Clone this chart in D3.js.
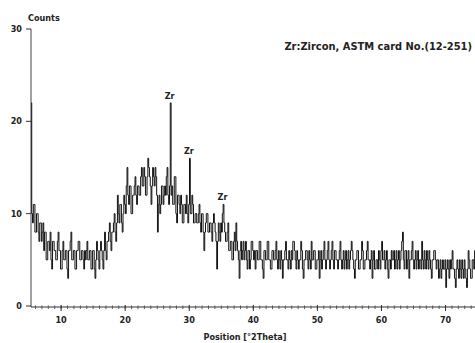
<!DOCTYPE html>
<html>
<head>
<meta charset="utf-8">
<script src="https://cdn.jsdelivr.net/npm/d3@7"></script>
<style>
  body { margin: 0; background: #fff; }
  svg { display: block; }
  .lbl { font-family: "Liberation Sans Narrow", "DejaVu Sans Condensed", sans-serif; font-weight: bold; fill: #222; }
</style>
</head>
<body>
<svg id="chart" width="475" height="343"></svg>
<script>
// XRD pattern, counts (2Theta grid: start + i*step, 8 per degree)
const thetaStart = 5.35;
const thetaStep = 0.125;
const counts = [
  22, 10, 9, 11, 11, 8, 8, 10,    10, 8, 7, 9, 9, 7, 8, 9,
  6, 8, 8, 5, 5, 7, 7, 6,         8, 5, 4, 7, 7, 6, 6, 5,
  5, 7, 8, 6, 6, 4, 4, 6,         7, 5, 5, 6, 6, 4, 3, 6,
  6, 7, 8, 5, 5, 6, 6, 4,         4, 6, 6, 7, 7, 5, 5, 6,
  6, 5, 4, 6, 5, 6, 7, 5,         5, 6, 6, 4, 4, 6, 6, 4,
  3, 5, 7, 6, 5, 4, 6, 7,         6, 5, 4, 6, 8, 6, 5, 7,
  7, 8, 9, 7, 6, 8, 8, 9,         10, 8, 7, 9, 12, 10, 9, 11,
  11, 9, 8, 10, 12, 11, 10, 13,   15, 12, 11, 13, 13, 10, 10, 12,
  12, 13, 14, 12, 11, 13, 13, 12, 12, 14, 15, 13, 13, 15, 14, 12,
  12, 14, 16, 15, 14, 13, 11, 13, 15, 14, 13, 15, 14, 12, 8, 11,
  12, 10, 11, 13, 13, 11, 12, 13, 12, 14, 15, 12, 11, 13, 22, 12,
  13, 11, 11, 14, 14, 10, 9, 12,  12, 11, 10, 12, 11, 9, 9, 11,
  11, 10, 12, 10, 9, 11, 16, 10,  10, 12, 11, 9, 9, 10, 10, 9,
  9, 10, 11, 9, 8, 10, 10, 8,     6, 8, 9, 10, 10, 8, 8, 9,
  9, 8, 7, 9, 10, 9, 8, 7,        4, 7, 9, 8, 7, 9, 8, 10,
  11, 9, 8, 7, 7, 8, 9, 6,        6, 7, 7, 5, 5, 7, 8, 6,
  9, 7, 6, 5, 3, 6, 7, 5,         6, 7, 5, 6, 7, 5, 4, 6,
  6, 4, 5, 7, 7, 6, 5, 6,         4, 6, 6, 5, 5, 7, 7, 5,
  5, 4, 3, 6, 6, 5, 5, 7,         7, 5, 5, 4, 4, 6, 6, 5,
  5, 6, 7, 5, 4, 6, 5, 4,         6, 5, 3, 5, 5, 6, 7, 5,
  5, 4, 6, 5, 4, 6, 5, 7,         7, 6, 5, 4, 6, 5, 4, 5,
  5, 7, 6, 4, 3, 5, 5, 6,         6, 5, 4, 6, 5, 4, 7, 5,
  5, 6, 6, 4, 4, 5, 5, 6,         3, 5, 6, 4, 5, 6, 7, 5,
  4, 5, 6, 7, 5, 4, 5, 6,         7, 5, 4, 6, 6, 5, 5, 4,
  5, 6, 7, 5, 4, 5, 6, 4,         5, 6, 4, 5, 6, 4, 5, 6,
  7, 6, 5, 4, 3, 5, 5, 6,         6, 4, 4, 5, 5, 7, 6, 4,
  4, 5, 5, 6, 7, 5, 5, 4,         5, 6, 3, 5, 6, 4, 4, 5,
  5, 4, 6, 5, 4, 6, 7, 5,         5, 6, 4, 5, 6, 4, 3, 5,
  5, 4, 6, 5, 5, 6, 4, 5,         6, 4, 5, 6, 4, 5, 6, 7,
  8, 5, 4, 6, 6, 4, 5, 6,         3, 5, 5, 6, 7, 5, 4, 5,
  6, 4, 5, 6, 4, 5, 5, 4,         7, 5, 4, 6, 5, 4, 6, 5,
  4, 6, 5, 4, 3, 5, 5, 6,         6, 5, 4, 5, 5, 3, 4, 5,
  3, 4, 5, 4, 4, 5, 2, 4,         5, 4, 3, 5, 4, 5, 6, 4,
  4, 3, 2, 4, 5, 4, 3, 5,         4, 3, 5, 4, 3, 5, 4, 3,
  2, 4, 6, 5, 4, 3, 3, 5,         5, 4, 6
];
const yTicks = [0, 10, 20, 30];
const xTicks = [10, 20, 30, 40, 50, 60, 70];
const peakNames = ["Zr", "Zr", "Zr"];
const peakTheta = [27.1, 30.1, 35.35];
const peakCounts = [22, 16, 11];
const legendText = "Zr:Zircon, ASTM card No.(12-251)";

const data = counts.map((c, i) => ({theta: thetaStart + i * thetaStep, count: c}));

const svg = d3.select("#chart");
const x = d3.scaleLinear().domain([5.3, 74.6]).range([31, 475]);
const y = d3.scaleLinear().domain([0, 30]).range([306, 29]);

// x axis
const xAxis = svg.append("g").attr("transform", "translate(0,307)");
xAxis.append("line").attr("x1", 31).attr("x2", 475).attr("stroke", "#333").attr("stroke-width", 1.2);
xAxis.selectAll(".minor").data(d3.range(6, 75)).enter().append("line")
  .attr("x1", d => x(d)).attr("x2", d => x(d))
  .attr("y1", -1.5).attr("y2", 2).attr("stroke", "#555");
xAxis.selectAll(".major").data(xTicks).enter().append("line")
  .attr("x1", d => x(d)).attr("x2", d => x(d))
  .attr("y1", -2).attr("y2", 4).attr("stroke", "#333");
xAxis.selectAll("text").data(xTicks).enter().append("text")
  .attr("class", "lbl").attr("x", d => x(d)).attr("y", 16)
  .attr("text-anchor", "middle").attr("font-size", 9).text(d => d);

// y axis
const yAxis = svg.append("g").attr("transform", "translate(31,0)");
yAxis.append("line").attr("y1", 29).attr("y2", 307).attr("stroke", "#444").attr("stroke-width", 1);
yAxis.selectAll(".major").data(yTicks).enter().append("line")
  .attr("x1", -5).attr("x2", 0).attr("y1", d => y(d)).attr("y2", d => y(d)).attr("stroke", "#333");
yAxis.selectAll("text").data(yTicks).enter().append("text")
  .attr("class", "lbl").attr("x", -9).attr("y", d => y(d) + 3)
  .attr("text-anchor", "end").attr("font-size", 9).text(d => d);

svg.append("text").attr("class", "lbl").attr("x", 28).attr("y", 21)
  .attr("font-size", 9).text("Counts");
svg.append("text").attr("class", "lbl").attr("x", 245).attr("y", 340)
  .attr("text-anchor", "middle").attr("font-size", 9).text("Position [°2Theta]");

// pattern
const line = d3.line().x(d => x(d.theta)).y(d => y(d.count)).curve(d3.curveStep);
svg.append("path").datum(data)
  .attr("d", line).attr("fill", "none").attr("stroke", "#111").attr("stroke-width", 1);

// peak labels
svg.selectAll(".peak").data(peakNames).enter().append("text")
  .attr("class", "lbl").attr("font-size", 9).attr("text-anchor", "middle")
  .attr("x", (d, i) => x(peakTheta[i]) - 1)
  .attr("y", (d, i) => y(peakCounts[i]) - 4)
  .text(d => d);

svg.append("text").attr("class", "lbl").attr("x", 472).attr("y", 50)
  .attr("text-anchor", "end").attr("font-size", 11).text(legendText);
</script>
</body>
</html>
